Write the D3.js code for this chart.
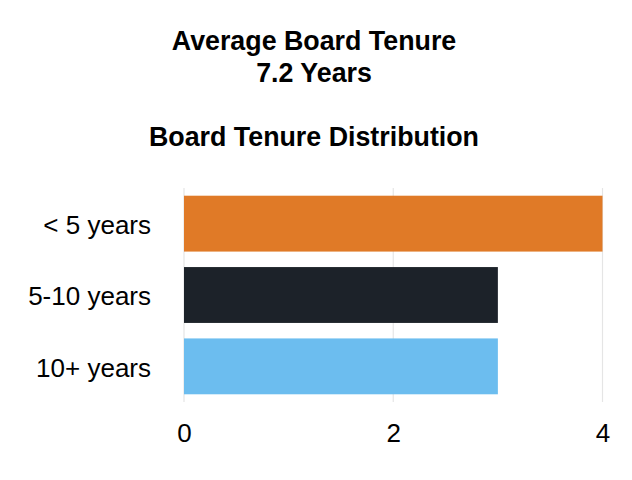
<!DOCTYPE html>
<html>
<head>
<meta charset="utf-8">
<script src="https://cdn.jsdelivr.net/npm/d3@7.9.0/dist/d3.min.js"></script>
<style>
  html, body { margin: 0; padding: 0; background: #fff; }
  svg text { font-family: "Liberation Sans", Arial, sans-serif; fill: #000; }
</style>
</head>
<body>
<svg id="chart" width="632" height="480"></svg>
<script>
const categories = ['< 5 years', '5-10 years', '10+ years'];
const counts = [4, 3, 3];
const barColors = ['#E07A27', '#1C2229', '#6CBDEF'];
const xTicks = [0, 2, 4];
const titleLines = ['Average Board Tenure', '7.2 Years'];
const subtitle = 'Board Tenure Distribution';

const svg = d3.select('#chart');
const margin = { top: 188, right: 30, bottom: 78, left: 184 };
const width = 632, height = 480;

const x = d3.scaleLinear()
    .domain([0, 4])
    .range([margin.left, 602.5]);

const y = d3.scaleBand()
    .domain(categories)
    .range([margin.top, height - margin.bottom])
    .paddingInner(0.217)
    .paddingOuter(0.108);

// gridlines
svg.append('g')
    .selectAll('line')
    .data(xTicks)
    .join('line')
    .attr('x1', d => x(d))
    .attr('x2', d => x(d))
    .attr('y1', margin.top)
    .attr('y2', height - margin.bottom)
    .attr('stroke', '#e5e5e5')
    .attr('stroke-width', 1.2);

// bars
svg.append('g')
    .selectAll('rect')
    .data(categories)
    .join('rect')
    .attr('x', x(0))
    .attr('y', d => y(d))
    .attr('width', (d, i) => x(counts[i]) - x(0))
    .attr('height', y.bandwidth())
    .attr('fill', (d, i) => barColors[i]);

// x axis
const xAxis = svg.append('g')
    .attr('transform', `translate(0,${height - margin.bottom})`)
    .call(d3.axisBottom(x).tickValues(xTicks).tickFormat(d3.format('d')).tickSize(0).tickPadding(22));
xAxis.select('.domain').remove();
xAxis.selectAll('text')
    .style('font-size', '26px')
    .attr('fill', '#000');

// y axis
const yAxis = svg.append('g')
    .attr('transform', `translate(${margin.left},0)`)
    .call(d3.axisLeft(y).tickSize(0).tickPadding(33));
yAxis.select('.domain').remove();
yAxis.selectAll('text')
    .style('font-size', '26px')
    .attr('dy', '0.4em')
    .attr('fill', '#000');

// titles
svg.append('g')
    .selectAll('text')
    .data(titleLines)
    .join('text')
    .attr('x', 314)
    .attr('y', (d, i) => 50 + i * 32)
    .attr('text-anchor', 'middle')
    .style('font-size', '26.8px')
    .style('font-weight', 'bold')
    .text(d => d);

svg.append('text')
    .attr('x', 314)
    .attr('y', 146)
    .attr('text-anchor', 'middle')
    .style('font-size', '26.8px')
    .style('font-weight', 'bold')
    .text(subtitle);
</script>
</body>
</html>
